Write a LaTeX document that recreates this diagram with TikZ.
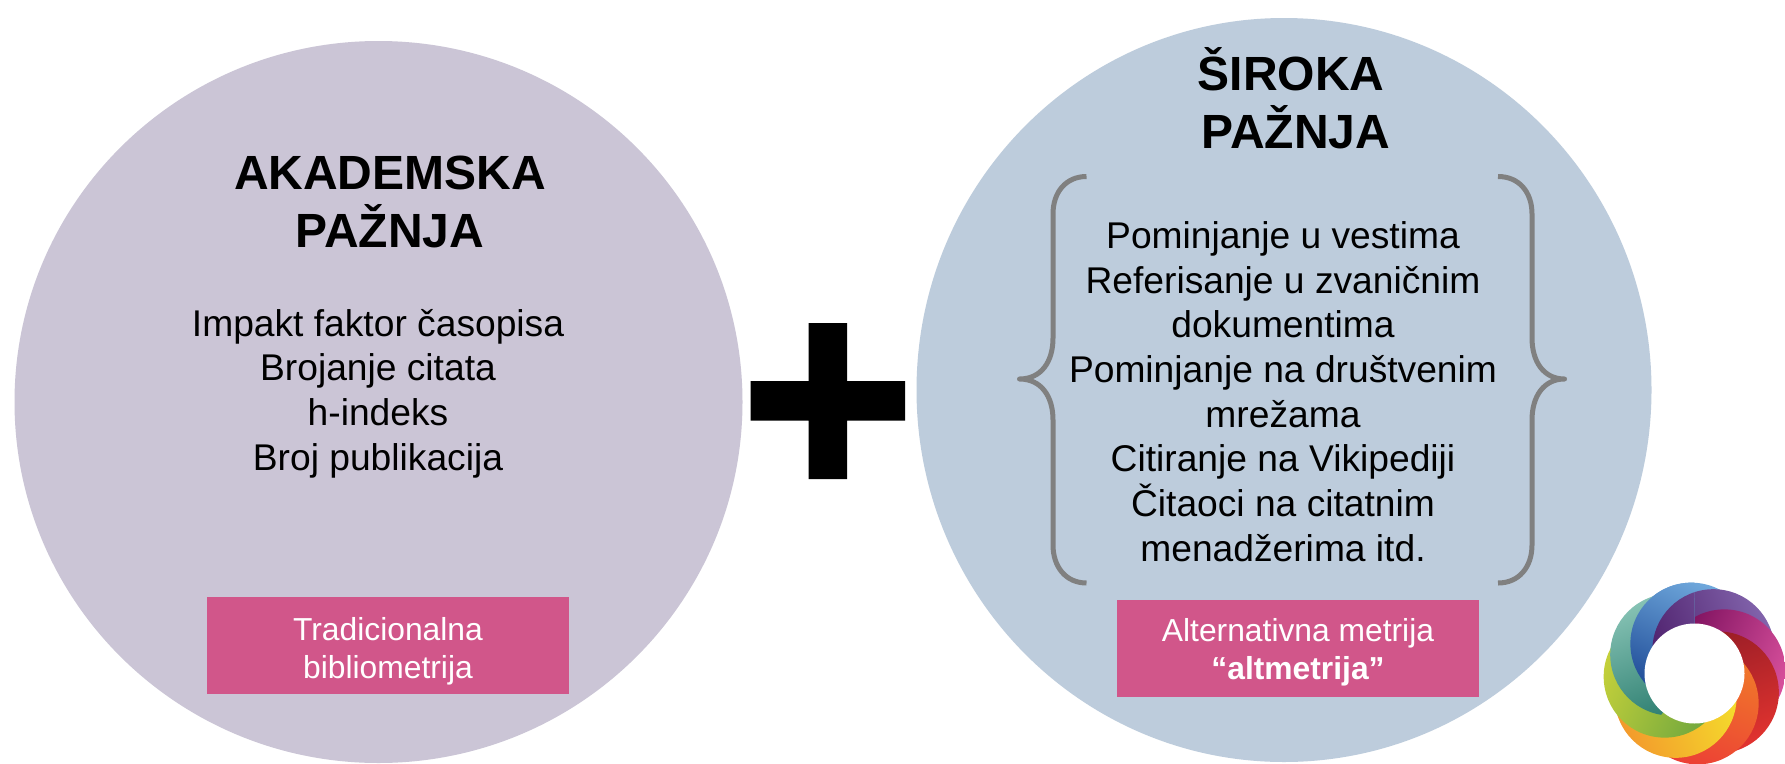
\documentclass[tikz,border=0pt]{standalone}
\usepackage{fontspec}
\setmainfont{Liberation Sans}
\definecolor{circA}{HTML}{CBC5D6}
\definecolor{circB}{HTML}{BDCCDC}
\definecolor{tagpink}{HTML}{D1568A}
\definecolor{bracegray}{HTML}{808080}
\tikzset{
  headtext/.style={align=center,inner sep=0pt,font=\fontsize{48}{58}\selectfont\bfseries,text=black},
  listtext/.style={align=center,inner sep=0pt,font=\fontsize{37.2}{44.7}\selectfont,text=black},
  tagbox/.style={fill=tagpink,draw=none,inner sep=0pt,outer sep=0pt,minimum width=362pt,minimum height=97pt},
  tagtext/.style={align=center,inner sep=0pt,text=white,font=\fontsize{31.8}{38}\selectfont},
  bracestroke/.style={draw=bracegray,line width=5pt,line join=round,fill=none},
}
\newcommand{\petal}[3]{% axis angle, light colour, dark colour
  \definecolor{petallight}{HTML}{#2}
  \definecolor{petaldark}{HTML}{#3}
  \pgfmathsetmacro{\pcx}{1694.5+30*cos(#1)}
  \pgfmathsetmacro{\pcy}{673.5-30*sin(#1)}
  \pgfmathsetmacro{\pshade}{#1-30-90}
  \shade[top color=petallight,bottom color=petaldark,shading angle=\pshade] (\pcx,\pcy) circle (61);
}
\begin{document}
\begin{tikzpicture}[x=1pt,y=-1pt]
\useasboundingbox (0,0) rectangle (1785,763);
\fill[white] (0,0) rectangle (1785,763);
\begin{scope}
\clip (0,0) rectangle (1785,763);
\fill[circA] (378.5,402) ellipse [x radius=364,y radius=361];
\fill[circB] (1284,390) ellipse [x radius=367.5,y radius=372];
% plus sign
\fill[black] (808.5,323) -- (847,323) -- (847,381) -- (905,381) -- (905,420.7) -- (847,420.7) -- (847,479) -- (808.5,479) -- (808.5,420.7) -- (750.5,420.7) -- (750.5,381) -- (808.5,381) -- cycle;
% logo
\petal{96}{6FA8DC}{1E4A96}
\petal{51}{8264AC}{4E206C}
\petal{6}{D8509C}{7A0E5C}
\petal{-39}{E2332F}{981D26}
\petal{-84}{EC3F35}{F07A2A}
\petal{-129}{F39A2C}{F4E02C}
\petal{-174}{C4D03A}{6EA63E}
\begin{scope}
  \clip (1694.5,673.5) -- (1694.5,560) -- (1560,560) -- (1560,840) -- cycle;
  \petal{141}{86C2B4}{2A7C6E}
  \petal{96}{6FA8DC}{1E4A96}
\end{scope}
\begin{scope}
  \clip (1694.5,673.5) -- (1694.5,560) -- (1580,560) -- (1580,610) -- cycle;
  \petal{51}{8264AC}{4E206C}
\end{scope}
\fill[white] (1694.5,673.5) circle (50);
\end{scope}
% headings
\node[headtext] (headA) at (390,202) {AKADEMSKA\\PAŽNJA};
\node[headtext] (headB) at (1296,98) {ŠIROKA\hspace*{10pt}\\PAŽNJA};
% lists
\node[listtext] (listA) at (378,393.5) {Impakt faktor časopisa\\Brojanje citata\\h-indeks\\Broj publikacija};
\node[listtext] (listB) at (1283,391.5) {Pominjanje u vestima\\Referisanje u zvaničnim\\dokumentima\\Pominjanje na društvenim\\mrežama\\Citiranje na Vikipediji\\Čitaoci na citatnim\\menadžerima itd.};
% tags
\node[tagbox] (tagA) at (388,645.5) {};
\node[tagtext] (tagAtext) at (388,651) {Tradicionalna\\bibliometrija};
\node[tagbox] (tagB) at (1298,648.5) {};
\node[tagtext] (tagBtext) at (1298,652.5) {Alternativna metrija\\\textbf{“altmetrija”}};
% braces
\draw[bracestroke] (1086.5,176.5) .. controls (1066,176.5) and (1053,192) .. (1053,214) -- (1053,338) .. controls (1053,362) and (1041,379) .. (1019.5,379) .. controls (1041,379) and (1053,396) .. (1053,420) -- (1053,545) .. controls (1053,567) and (1066,583) .. (1086.5,583);
\draw[bracestroke] (1498,176.5) .. controls (1519,176.5) and (1532,192) .. (1532,214) -- (1532,338) .. controls (1532,362) and (1544,379) .. (1564.5,379) .. controls (1544,379) and (1532,396) .. (1532,420) -- (1532,545) .. controls (1532,567) and (1519,583) .. (1498,583);
\end{tikzpicture}
\end{document}
